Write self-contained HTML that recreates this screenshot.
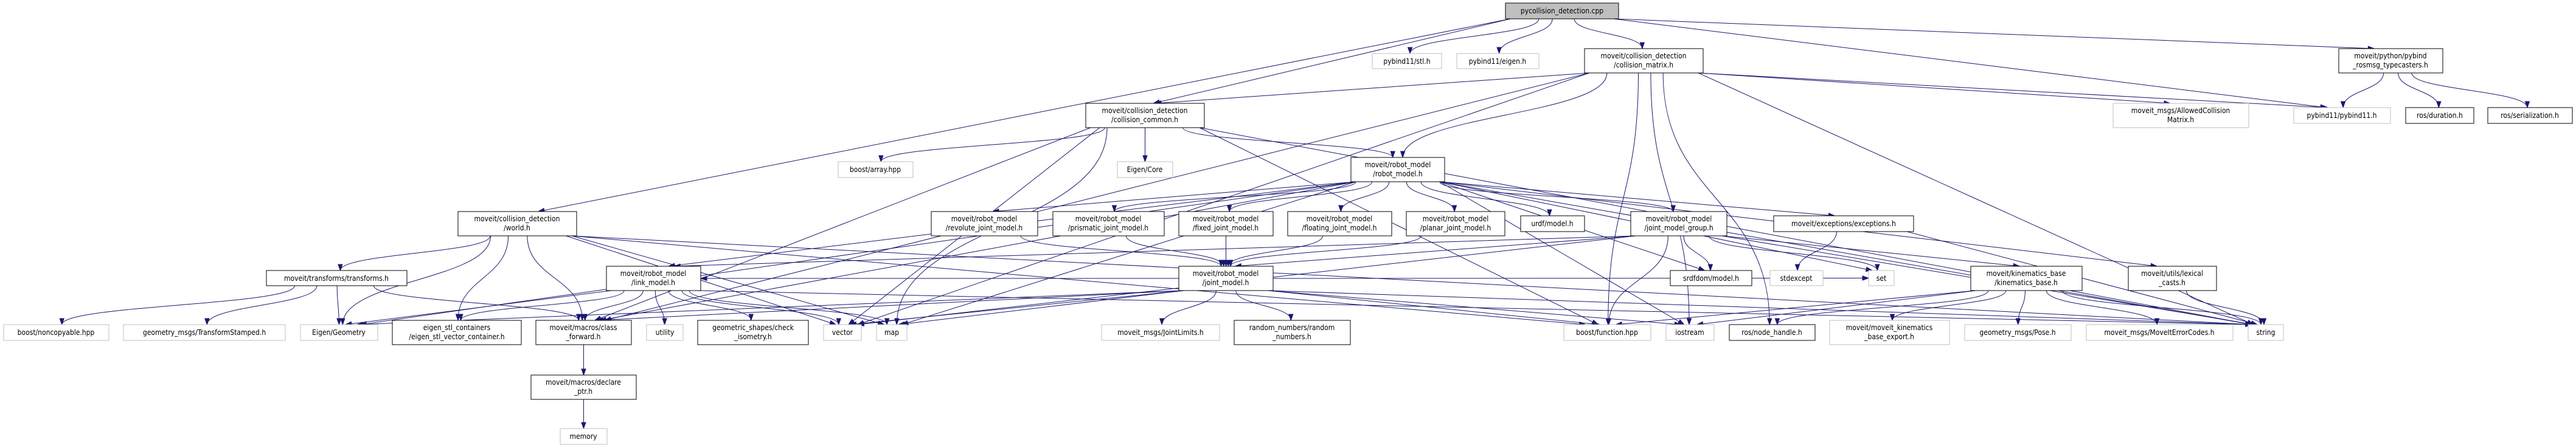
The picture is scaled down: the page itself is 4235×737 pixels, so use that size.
<!DOCTYPE html>
<html><head><meta charset="utf-8"><style>
html,body{margin:0;padding:0;background:#fff;}
svg{display:block;}
text{font-family:"DejaVu Sans Condensed","DejaVu Sans","Liberation Sans",sans-serif;font-size:12px;fill:#000;text-anchor:middle;}
</style></head><body>
<svg id="s" width="4235" height="737" viewBox="0 0 4235 737" xmlns="http://www.w3.org/2000/svg">
<rect width="4235" height="737" fill="#fff"/>
<g id="edges" fill="none" stroke="#191970" stroke-width="1"></g>
<g id="arrows" fill="#191970" stroke="#191970"></g>
<g id="nodes">
<rect x="2475" y="5" width="186" height="26" fill="#bfbfbf" stroke="#000"/><text x="2568" y="22">pycollision_detection.cpp</text>
<rect x="2256" y="88" width="114" height="25" fill="#fff" stroke="#bfbfbf"/><text x="2313" y="105">pybind11/stl.h</text>
<rect x="2395" y="88" width="135" height="25" fill="#fff" stroke="#bfbfbf"/><text x="2462" y="105">pybind11/eigen.h</text>
<rect x="2605" y="80" width="195" height="40" fill="#fff" stroke="#000"/><text x="2702" y="96">moveit/collision_detection</text><text x="2702" y="111">/collision_matrix.h</text>
<rect x="3845" y="80" width="171" height="40" fill="#fff" stroke="#000"/><text x="3930" y="96">moveit/python/pybind</text><text x="3930" y="111">_rosmsg_typecasters.h</text>
<rect x="3474" y="170" width="223" height="40" fill="#fff" stroke="#bfbfbf"/><text x="3585" y="186">moveit_msgs/AllowedCollision</text><text x="3585" y="201">Matrix.h</text>
<rect x="3771" y="177" width="159" height="26" fill="#fff" stroke="#bfbfbf"/><text x="3850" y="194">pybind11/pybind11.h</text>
<rect x="3955" y="177" width="112" height="26" fill="#fff" stroke="#000"/><text x="4011" y="194">ros/duration.h</text>
<rect x="4090" y="177" width="139" height="26" fill="#fff" stroke="#000"/><text x="4159" y="194">ros/serialization.h</text>
<rect x="1785" y="170" width="195" height="40" fill="#fff" stroke="#000"/><text x="1882" y="186">moveit/collision_detection</text><text x="1882" y="201">/collision_common.h</text>
<rect x="1378" y="266" width="123" height="26" fill="#fff" stroke="#bfbfbf"/><text x="1439" y="283">boost/array.hpp</text>
<rect x="1837" y="266" width="91" height="26" fill="#fff" stroke="#bfbfbf"/><text x="1882" y="283">Eigen/Core</text>
<rect x="2221" y="259" width="154" height="40" fill="#fff" stroke="#000"/><text x="2298" y="275">moveit/robot_model</text><text x="2298" y="290">/robot_model.h</text>
<rect x="753" y="348" width="195" height="40" fill="#fff" stroke="#000"/><text x="850" y="364">moveit/collision_detection</text><text x="850" y="379">/world.h</text>
<rect x="1531" y="348" width="175" height="40" fill="#fff" stroke="#000"/><text x="1618" y="364">moveit/robot_model</text><text x="1618" y="379">/revolute_joint_model.h</text>
<rect x="1731" y="348" width="183" height="40" fill="#fff" stroke="#000"/><text x="1822" y="364">moveit/robot_model</text><text x="1822" y="379">/prismatic_joint_model.h</text>
<rect x="1938" y="348" width="155" height="40" fill="#fff" stroke="#000"/><text x="2015" y="364">moveit/robot_model</text><text x="2015" y="379">/fixed_joint_model.h</text>
<rect x="2117" y="348" width="171" height="40" fill="#fff" stroke="#000"/><text x="2202" y="364">moveit/robot_model</text><text x="2202" y="379">/floating_joint_model.h</text>
<rect x="2312" y="348" width="162" height="40" fill="#fff" stroke="#000"/><text x="2393" y="364">moveit/robot_model</text><text x="2393" y="379">/planar_joint_model.h</text>
<rect x="2500" y="355" width="105" height="26" fill="#fff" stroke="#000"/><text x="2552" y="372">urdf/model.h</text>
<rect x="2681" y="348" width="158" height="40" fill="#fff" stroke="#000"/><text x="2760" y="364">moveit/robot_model</text><text x="2760" y="379">/joint_model_group.h</text>
<rect x="2916" y="355" width="230" height="26" fill="#fff" stroke="#000"/><text x="3031" y="372">moveit/exceptions/exceptions.h</text>
<rect x="438" y="445" width="231" height="25" fill="#fff" stroke="#000"/><text x="553" y="462">moveit/transforms/transforms.h</text>
<rect x="997" y="438" width="155" height="40" fill="#fff" stroke="#000"/><text x="1074" y="454">moveit/robot_model</text><text x="1074" y="469">/link_model.h</text>
<rect x="1938" y="438" width="155" height="40" fill="#fff" stroke="#000"/><text x="2015" y="454">moveit/robot_model</text><text x="2015" y="469">/joint_model.h</text>
<rect x="2746" y="445" width="134" height="25" fill="#fff" stroke="#000"/><text x="2813" y="462">srdfdom/model.h</text>
<rect x="2910" y="445" width="87" height="25" fill="#fff" stroke="#bfbfbf"/><text x="2953" y="462">stdexcept</text>
<rect x="3072" y="445" width="42" height="25" fill="#fff" stroke="#bfbfbf"/><text x="3093" y="462">set</text>
<rect x="3240" y="438" width="183" height="40" fill="#fff" stroke="#000"/><text x="3331" y="454">moveit/kinematics_base</text><text x="3331" y="469">/kinematics_base.h</text>
<rect x="3499" y="438" width="145" height="40" fill="#fff" stroke="#000"/><text x="3571" y="454">moveit/utils/lexical</text><text x="3571" y="469">_casts.h</text>
<rect x="6" y="534" width="173" height="26" fill="#fff" stroke="#bfbfbf"/><text x="92" y="551">boost/noncopyable.hpp</text>
<rect x="203" y="534" width="266" height="26" fill="#fff" stroke="#bfbfbf"/><text x="336" y="551">geometry_msgs/TransformStamped.h</text>
<rect x="494" y="534" width="127" height="26" fill="#fff" stroke="#bfbfbf"/><text x="557" y="551">Eigen/Geometry</text>
<rect x="645" y="527" width="212" height="40" fill="#fff" stroke="#000"/><text x="751" y="543">eigen_stl_containers</text><text x="751" y="558">/eigen_stl_vector_container.h</text>
<rect x="881" y="527" width="157" height="40" fill="#fff" stroke="#000"/><text x="959" y="543">moveit/macros/class</text><text x="959" y="558">_forward.h</text>
<rect x="1063" y="534" width="60" height="26" fill="#fff" stroke="#bfbfbf"/><text x="1093" y="551">utility</text>
<rect x="1147" y="527" width="182" height="40" fill="#fff" stroke="#000"/><text x="1238" y="543">geometric_shapes/check</text><text x="1238" y="558">_isometry.h</text>
<rect x="1354" y="534" width="62" height="26" fill="#fff" stroke="#bfbfbf"/><text x="1385" y="551">vector</text>
<rect x="1441" y="534" width="50" height="26" fill="#fff" stroke="#bfbfbf"/><text x="1466" y="551">map</text>
<rect x="1811" y="534" width="194" height="26" fill="#fff" stroke="#bfbfbf"/><text x="1908" y="551">moveit_msgs/JointLimits.h</text>
<rect x="2029" y="527" width="191" height="40" fill="#fff" stroke="#000"/><text x="2124" y="543">random_numbers/random</text><text x="2124" y="558">_numbers.h</text>
<rect x="2571" y="534" width="143" height="26" fill="#fff" stroke="#bfbfbf"/><text x="2642" y="551">boost/function.hpp</text>
<rect x="2739" y="534" width="79" height="26" fill="#fff" stroke="#bfbfbf"/><text x="2778" y="551">iostream</text>
<rect x="2843" y="534" width="141" height="26" fill="#fff" stroke="#000"/><text x="2913" y="551">ros/node_handle.h</text>
<rect x="3008" y="527" width="197" height="40" fill="#fff" stroke="#bfbfbf"/><text x="3106" y="543">moveit/moveit_kinematics</text><text x="3106" y="558">_base_export.h</text>
<rect x="3230" y="534" width="175" height="26" fill="#fff" stroke="#bfbfbf"/><text x="3317" y="551">geometry_msgs/Pose.h</text>
<rect x="3430" y="534" width="241" height="26" fill="#fff" stroke="#bfbfbf"/><text x="3550" y="551">moveit_msgs/MoveItErrorCodes.h</text>
<rect x="3696" y="534" width="58" height="26" fill="#fff" stroke="#bfbfbf"/><text x="3725" y="551">string</text>
<rect x="873" y="617" width="173" height="40" fill="#fff" stroke="#000"/><text x="959" y="633">moveit/macros/declare</text><text x="959" y="648">_ptr.h</text>
<rect x="921" y="705" width="77" height="26" fill="#fff" stroke="#bfbfbf"/><text x="959" y="722">memory</text>
</g>
</svg>
<script>
var N={P:[2475,5,2661,31],stl:[2256,88,2370,113],eig:[2395,88,2530,113],cm:[2605,80,2800,120],tc:[3845,80,4016,120],
acm:[3474,170,3697,210],pb:[3771,177,3930,203],dur:[3955,177,4067,203],ser:[4090,177,4229,203],cc:[1785,170,1980,210],
barr:[1378,266,1501,292],ecore:[1837,266,1928,292],rm:[2221,259,2375,299],world:[753,348,948,388],rev:[1531,348,1706,388],
pri:[1731,348,1914,388],fix:[1938,348,2093,388],flo:[2117,348,2288,388],pla:[2312,348,2474,388],urdf:[2500,355,2605,381],
jmg:[2681,348,2839,388],exc:[2916,355,3146,381],tr:[438,445,669,470],lm:[997,438,1152,478],jm:[1938,438,2093,478],
srdf:[2746,445,2880,470],stde:[2910,445,2997,470],set:[3072,445,3114,470],kb:[3240,438,3423,478],lex:[3499,438,3644,478],
nonc:[6,534,179,560],tfs:[203,534,469,560],egeo:[494,534,621,560],estl:[645,527,857,567],cf:[881,527,1038,567],
util:[1063,534,1123,560],iso:[1147,527,1329,567],vec:[1354,534,1416,560],map:[1441,534,1491,560],jl:[1811,534,2005,560],
rnd:[2029,527,2220,567],bf:[2571,534,2714,560],ios:[2739,534,2818,560],nh:[2843,534,2984,560],exp:[3008,527,3205,567],
pose:[3230,534,3405,560],mec:[3430,534,3671,560],str:[3696,534,3754,560],dp:[873,617,1046,657],mem:[921,705,998,731]};
var E=[["P","stl"],["P","eig"],["P","cm"],["P","world"],["P","tc"],["P","pb"],["P","cc"],
["cm","cc"],["cm","cf"],["cm","acm"],["cm","str"],["cm","vec"],["cm","bf"],["cm","ios"],["cm","nh"],["cm","rm"],["cm","pb"],
["cc","barr"],["cc","ecore"],["cc","rm"],["cc","vec"],["cc","map"],["cc","str"],["cc","bf"],["cc","cf"],
["rm","rev"],["rm","pri"],["rm","fix"],["rm","flo"],["rm","pla"],["rm","urdf"],["rm","jmg"],["rm","exc"],["rm","srdf"],["rm","lm"],
["rm","egeo"],["rm","map"],["rm","ios"],["rm","set"],["rm","lex"],["rm","str"],["rm","cf"],
["rev","jm"],["pri","jm"],["fix","jm"],["flo","jm"],["pla","jm"],
["jmg","jm"],["jmg","lm"],["jmg","srdf"],["jmg","set"],["jmg","kb"],["jmg","bf"],["jmg","str"],["jmg","vec"],
["jm","lm"],["jm","vec"],["jm","map"],["jm","jl"],["jm","rnd"],["jm","cf"],["jm","egeo"],["jm","ios"],["jm","str"],["jm","set"],["jm","bf"],
["lm","egeo"],["lm","estl"],["lm","cf"],["lm","util"],["lm","iso"],["lm","vec"],["lm","map"],["lm","str"],
["world","tr"],["world","egeo"],["world","estl"],["world","cf"],["world","vec"],["world","map"],["world","str"],["world","bf"],
["tr","nonc"],["tr","tfs"],["tr","egeo"],["tr","cf"],["cf","dp"],["dp","mem"],
["exc","stde"],["exc","str"],["kb","bf"],["kb","nh"],["kb","exp"],["kb","pose"],["kb","mec"],["kb","str"],["kb","ios"],
["lex","str"],["tc","pb"],["tc","dur"],["tc","ser"]];
var NS="http://www.w3.org/2000/svg",ge=document.getElementById("edges"),ga=document.getElementById("arrows");
E.forEach(function(e){var s=N[e[0]],t=N[e[1]];var scx=(s[0]+s[2])/2,tcx=(t[0]+t[2])/2,x1,y1,x2,y2,c1x,c1y,c2x,c2y;
 if(t[1]>s[3]+5){x1=Math.max(s[0]+8,Math.min(s[2]-8,scx+(tcx-scx)*0.15));y1=s[3];x2=Math.max(t[0]+6,Math.min(t[2]-6,tcx-(tcx-scx)*0.02));y2=t[1];
  var d=(y2-y1)*0.5;c1x=x1;c1y=y1+d;c2x=x2;c2y=y2-d;
  if(Math.abs(x2-x1)>400){c1x=x1+(x2-x1)*0.3;c1y=y1+d*0.6;c2x=x2-(x2-x1)*0.3;c2y=y2-d*0.6;}}
 else{y1=(s[1]+s[3])/2;y2=(t[1]+t[3])/2;if(tcx>scx){x1=s[2];x2=t[0];}else{x1=s[0];x2=t[2];}c1x=(x1+x2)/2;c1y=y1;c2x=(x1+x2)/2;c2y=y2;}
 var p=document.createElementNS(NS,"path");p.setAttribute("d","M"+x1+","+y1+" C"+c1x+","+c1y+" "+c2x+","+c2y+" "+x2+","+y2);ge.appendChild(p);
 var dx=x2-c2x,dy=y2-c2y,L=Math.sqrt(dx*dx+dy*dy)||1;dx/=L;dy/=L;var bx=x2-dx*10,by=y2-dy*10,px=-dy*3.5,py=dx*3.5;
 var a=document.createElementNS(NS,"polygon");a.setAttribute("points",x2+","+y2+" "+(bx+px)+","+(by+py)+" "+(bx-px)+","+(by-py));ga.appendChild(a);});
</script>
</body></html>
